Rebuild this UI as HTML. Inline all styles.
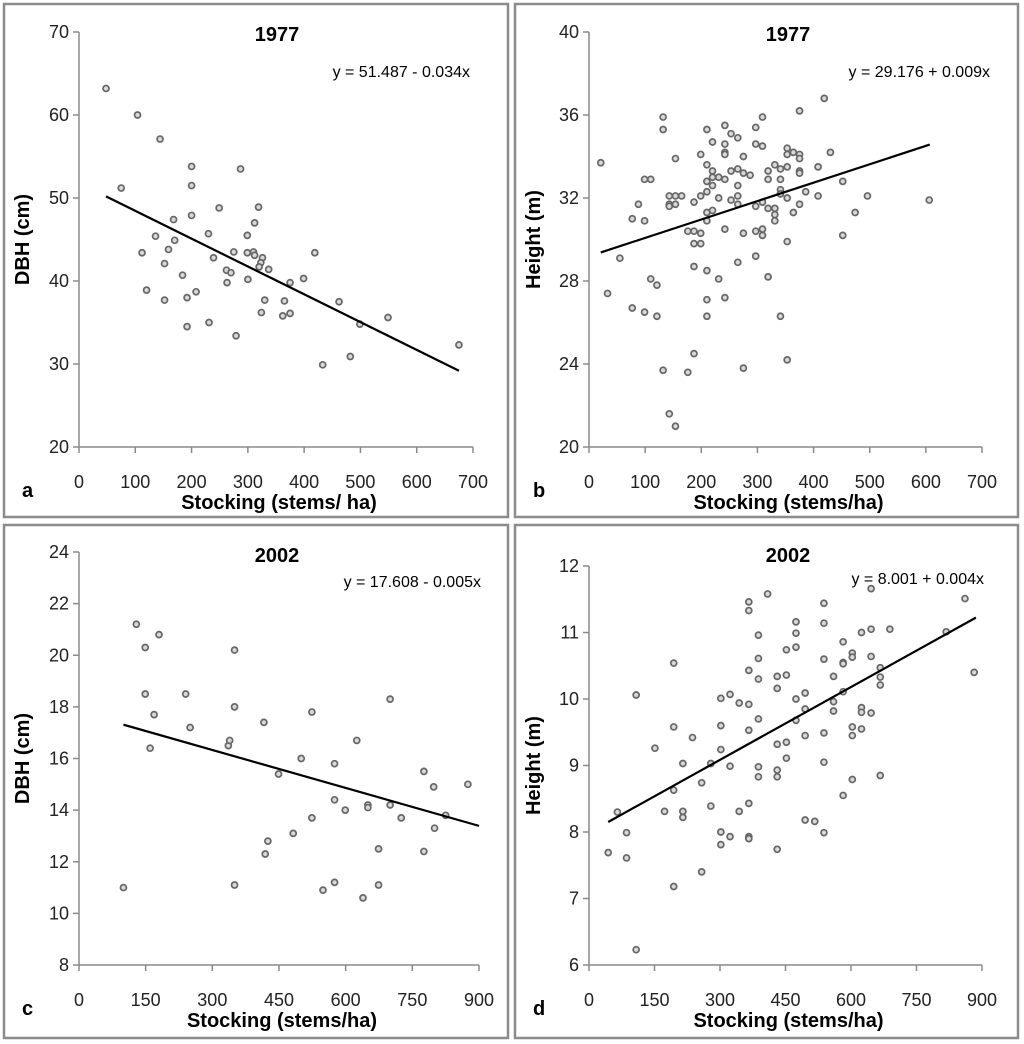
<!DOCTYPE html>
<html><head><meta charset="utf-8"><style>
html,body{margin:0;padding:0;background:#fff;}
svg{display:block;font-family:"Liberation Sans",sans-serif;}
</style></head><body>
<svg id="chart" width="1024" height="1044" viewBox="0 0 1024 1044" xmlns="http://www.w3.org/2000/svg"></svg>
<script>
// Panel a: 1977 DBH
const aX=[48,75,104,144,200,200,287,249,319,200,168,312,136,230,299,170,159,112,275,299,310,312,239,326,323,320,337,152,262,270,184,263,300,375,399,419,120,208,192,152,330,365,462,324,362,375,231,192,279,499,549,433,482,675];
const aY=[63.2,51.2,60,57.1,53.8,51.5,53.5,48.8,48.9,47.9,47.4,47,45.4,45.7,45.5,44.9,43.8,43.4,43.5,43.4,43.5,43.1,42.8,42.8,42.2,41.7,41.4,42.1,41.3,41,40.7,39.8,40.2,39.8,40.3,43.4,38.9,38.7,38,37.7,37.7,37.6,37.5,36.2,35.8,36.1,35,34.5,33.4,34.8,35.6,29.9,30.9,32.3];
const aXTicks=[0,100,200,300,400,500,600,700];
const aYTicks=[20,30,40,50,60,70];
const aFit=[51.8,-0.0335];
const aRange=[48,675];
// Panel b: 1977 Height
const bX=[21,33,55,77,88,77,99,99,110,110,121,99,121,132,132,143,143,143,154,154,165,154,132,143,154,176,187,176,187,199,187,199,187,187,199,199,210,210,210,210,210,210,210,210,210,220,220,220,220,220,231,231,231,242,242,242,242,242,242,242,253,253,253,265,265,265,265,265,265,275,275,275,275,287,297,297,297,297,297,309,309,309,309,309,319,319,319,319,331,331,331,331,341,341,341,341,341,353,353,353,353,353,353,364,364,375,375,375,375,375,375,386,408,408,419,430,452,452,474,496,606];
const bY=[33.7,27.4,29.1,31.0,31.7,26.7,30.9,32.9,32.9,28.1,27.8,26.5,26.3,35.9,35.3,32.1,31.7,31.6,32.1,31.7,32.1,33.9,23.7,21.6,21.0,23.6,24.5,30.4,30.4,30.3,29.8,29.8,28.7,31.8,32.1,34.1,35.3,33.6,32.8,32.3,31.3,30.9,28.5,27.1,26.3,34.7,33.3,33.0,32.6,31.4,33.0,32.0,28.1,35.5,34.6,34.2,34.1,32.9,30.5,27.2,35.1,33.3,31.9,34.9,33.4,32.6,32.1,31.7,28.9,34.0,33.2,30.3,23.8,33.1,35.4,34.6,31.6,30.4,29.2,35.9,34.5,31.8,30.5,30.2,33.3,32.9,31.5,28.2,33.6,31.5,31.2,30.9,33.4,32.9,32.4,32.2,26.3,34.4,34.1,33.5,32.0,29.9,24.2,34.2,31.3,36.2,34.1,33.9,33.3,33.2,31.7,32.3,33.5,32.1,36.8,34.2,32.8,30.2,31.3,32.1,31.9];
const bXTicks=[0,100,200,300,400,500,600,700];
const bYTicks=[20,24,28,32,36,40];
const bFit=[29.19,0.00887];
const bRange=[21,607];
// Panel c: 2002 DBH
const cX=[100,129,149,180,149,169,160,240,250,336,339,350,350,350,416,449,419,425,482,500,524,524,549,575,575,575,599,625,639,650,650,674,674,700,700,725,776,776,798,800,825,875];
const cY=[11.0,21.2,20.3,20.8,18.5,17.7,16.4,18.5,17.2,16.5,16.7,20.2,18.0,11.1,17.4,15.4,12.3,12.8,13.1,16.0,17.8,13.7,10.9,15.8,14.4,11.2,14.0,16.7,10.6,14.2,14.1,12.5,11.1,18.3,14.2,13.7,15.5,12.4,14.9,13.3,13.8,15.0];
const cXTicks=[0,150,300,450,600,750,900];
const cYTicks=[8,10,12,14,16,18,20,22,24];
const cFit=[17.8,-0.0049];
const cRange=[100,900];
// Panel d: 2002 Height
const dX=[44,65,86,86,108,108,151,173,194,194,194,194,215,215,215,237,258,258,279,279,302,302,302,302,302,323,323,323,344,344,366,366,366,366,366,366,366,366,388,388,388,388,388,388,409,431,431,431,431,431,431,452,452,452,452,474,474,474,474,474,495,495,495,495,517,538,538,538,538,538,538,560,560,560,582,582,582,582,582,603,603,603,603,603,624,624,624,624,646,646,646,646,667,667,667,667,689,818,861,882];
const dY=[7.69,8.30,7.99,7.61,10.06,6.23,9.26,8.31,10.54,9.58,8.63,7.18,9.03,8.31,8.22,9.42,8.74,7.40,9.03,8.39,10.01,9.60,9.24,8.00,7.81,10.07,8.99,7.93,9.94,8.31,11.46,11.33,10.43,9.92,9.53,8.43,7.93,7.90,10.96,10.61,10.30,9.70,8.98,8.83,11.58,10.34,10.16,9.32,8.93,8.83,7.74,10.74,10.36,9.35,9.11,11.16,10.99,10.78,10.00,9.68,10.09,9.85,9.45,8.18,8.16,11.44,11.14,10.60,9.49,9.05,7.99,10.34,9.96,9.82,10.86,10.55,10.53,10.11,8.55,10.69,10.63,9.58,9.45,8.79,11.00,9.87,9.80,9.55,11.66,11.05,10.64,9.79,10.47,10.33,10.21,8.85,11.05,11.01,11.51,10.40];
const dXTicks=[0,150,300,450,600,750,900];
const dYTicks=[6,7,8,9,10,11,12];
const dFit=[7.99,0.00365];
const dRange=[44,886];

const NS='http://www.w3.org/2000/svg';
const svg=document.getElementById('chart');
function mk(tag,attrs,parent,text){const e=document.createElementNS(NS,tag);for(const k in attrs)e.setAttribute(k,attrs[k]);if(text!==undefined)e.textContent=text;(parent||svg).appendChild(e);return e;}

function panel(id,box,ax,xs,ys,xT,yT,fit,rng,title,eq,ylab,xlab,letter){
  const g=mk('g',{});
  
  
  const br=mk('rect',{x:box[0],y:box[1],width:box[2],height:box[3],fill:'none',stroke:'#8c8c8c','stroke-width':2.5},g);
  
  
  const x0=xT[0],x1=xT[xT.length-1],y0=yT[0],y1=yT[yT.length-1];
  const sx=v=>ax.l+(v-x0)/(x1-x0)*(ax.r-ax.l);
  const sy=v=>ax.b-(v-y0)/(y1-y0)*(ax.b-ax.t);
  const yl=mk('line',{x1:ax.l,y1:ax.t,x2:ax.l,y2:ax.b,stroke:'#8a8a8a','stroke-width':1.5},g);
  
  
  const xl=mk('line',{x1:ax.l,y1:ax.b,x2:ax.r,y2:ax.b,stroke:'#8a8a8a','stroke-width':1.5},g);
  
  
  yT.forEach(v=>{
    mk('line',{x1:ax.l-6,y1:sy(v),x2:ax.l,y2:sy(v),stroke:'#8a8a8a','stroke-width':1.5},g);
    const t=mk('text',{x:ax.l-10,y:sy(v)+6,'text-anchor':'end','font-size':18,fill:'#222'},g,String(v));
    
    
  });
  xT.forEach(v=>{
    mk('line',{x1:sx(v),y1:ax.b,x2:sx(v),y2:ax.b+6,stroke:'#8a8a8a','stroke-width':1.5},g);
    const t=mk('text',{x:sx(v),y:ax.b+41,'text-anchor':'middle','font-size':18,fill:'#222'},g,String(v));
    
    
  });
  xs.forEach((v,i)=>{
    const c=mk('circle',{cx:sx(v),cy:sy(ys[i]),r:3,fill:'#d8d8d8',stroke:'#666','stroke-width':1.7},g);
    
    
  });
  const fl=mk('line',{x1:sx(rng[0]),y1:sy(fit[0]+fit[1]*rng[0]),x2:sx(rng[1]),y2:sy(fit[0]+fit[1]*rng[1]),stroke:'#000','stroke-width':2.2},g);
  
  
  const tt=mk('text',{x:box[0]+273,y:box[1]+37,'text-anchor':'middle','font-size':20,'font-weight':'bold',fill:'#000'},g,title);
  
  
  const et=mk('text',{x:ax.eqx,y:ax.eqy,'text-anchor':'end','font-size':16,fill:'#000'},g,eq);
  
  
  const ycx=box[0]+25,ycy=(ax.t+ax.b)/2;
  const yt=mk('text',{x:ycx,y:ycy,'text-anchor':'middle','font-size':20,'font-weight':'bold',fill:'#000',transform:'rotate(-90 '+ycx+' '+ycy+')'},g,ylab);
  
  
  const xt=mk('text',{x:(ax.l+ax.r)/2+3,y:ax.b+62,'text-anchor':'middle','font-size':20,'font-weight':'bold',fill:'#000'},g,xlab);
  
  
  const lt=mk('text',{x:box[0]+18,y:ax.b+50,'font-size':20,'font-weight':'bold',fill:'#000'},g,letter);
  
  
}
panel('a',[4,4,504,513],{l:79,r:473,t:32,b:447,eqx:470,eqy:77},aX,aY,aXTicks,aYTicks,aFit,aRange,'1977','y = 51.487 - 0.034x','DBH (cm)','Stocking (stems/ ha)','a');
panel('b',[515,4,503,513],{l:589,r:982,t:32,b:447,eqx:990,eqy:77},bX,bY,bXTicks,bYTicks,bFit,bRange,'1977','y = 29.176 + 0.009x','Height (m)','Stocking (stems/ha)','b');
panel('c',[4,525,504,513],{l:79,r:479,t:552,b:965,eqx:481,eqy:587},cX,cY,cXTicks,cYTicks,cFit,cRange,'2002','y = 17.608 - 0.005x','DBH (cm)','Stocking (stems/ha)','c');
panel('d',[515,525,503,513],{l:589,r:982,t:566,b:965,eqx:984,eqy:584},dX,dY,dXTicks,dYTicks,dFit,dRange,'2002','y = 8.001 + 0.004x','Height (m)','Stocking (stems/ha)','d');
</script>
</body></html>
